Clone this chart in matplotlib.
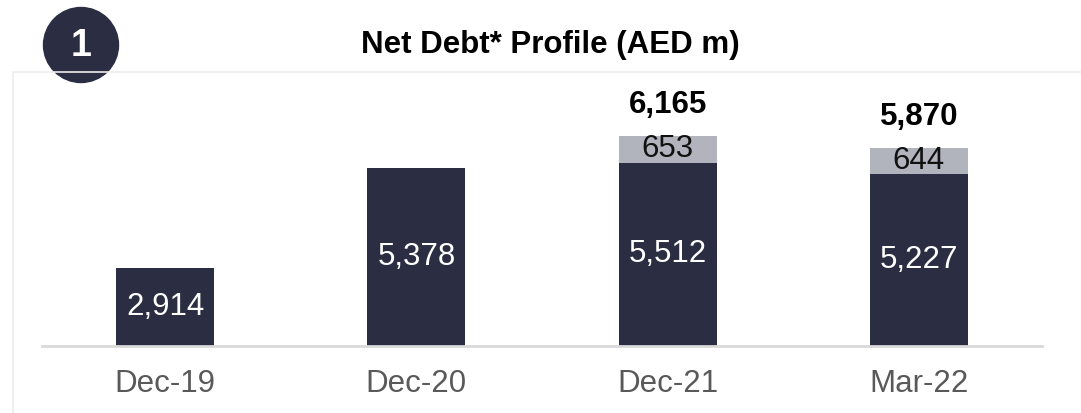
import matplotlib
matplotlib.use("Agg")
import matplotlib.pyplot as plt
from matplotlib.patches import Rectangle, Circle

categories = ["Dec-19", "Dec-20", "Dec-21", "Mar-22"]
base_values = [2914, 5378, 5512, 5227]
top_values = [0, 0, 653, 644]
totals = [None, None, 6165, 5870]

DARK = "#2b2d42"
GREY = "#b1b4bd"

plt.rcParams['font.family'] = ['Liberation Sans', 'DejaVu Sans']

W, H = 1081, 413
fig = plt.figure(figsize=(W / 100, H / 100), dpi=100)

# panel border (top and left visible only)
fig.patches.append(Rectangle((13 / W, -0.1), 1.2, 1.1 - 72 / H, transform=fig.transFigure,
                             fill=False, edgecolor="#eeeeee", linewidth=1.2, zorder=0))

ax = fig.add_axes([42 / W, 1 - 345.7 / H, 1000 / W, (345.7 - 72) / H])
x = list(range(len(categories)))
width = 0.39
ax.bar(x, base_values, width=width, color=DARK, bottom=0, zorder=2)
ax.bar(x, top_values, width=width, color=GREY, bottom=base_values, zorder=2)
ax.set_xlim(-0.49, 3.49)
ax.set_ylim(1012, 1012 + (345.7 - 72) / 0.0407)

for i in x:
    ax.text(i, (1012 + base_values[i]) / 2, f"{base_values[i]:,}", ha="center", va="center",
            color="white", fontsize=22.5, zorder=3)
    if top_values[i]:
        ax.text(i, base_values[i] + top_values[i] / 2, f"{top_values[i]:,}", ha="center",
                va="center", color="#111111", fontsize=22.5, zorder=3)
    if totals[i]:
        ax.annotate(f"{totals[i]:,}", (i, base_values[i] + top_values[i]), xytext=(0, 31),
                    textcoords="offset pixels", ha="center", va="center",
                    fontsize=22.5, fontweight="bold", color="black")

for s in ["top", "right", "left"]:
    ax.spines[s].set_visible(False)
ax.spines["bottom"].set_color("#d9d9d9")
ax.spines["bottom"].set_linewidth(2)
ax.set_yticks([])
ax.set_xticks(x)
ax.set_xticklabels(categories, fontsize=22.5, color="#595959")
ax.tick_params(axis="x", length=0, pad=17)
ax.patch.set_visible(False)

# title
fig.text(550 / W, 1 - 45 / H, "Net Debt* Profile (AED m)", ha="center", va="center",
         fontsize=22.5, fontweight="bold", color="black")

# numbered badge
badge = fig.add_axes([0, 0, 1, 1], facecolor="none")
badge.set_xlim(0, W)
badge.set_ylim(H, 0)
badge.axis("off")
badge.add_patch(Circle((81, 45), 37.5, color=DARK, zorder=5))
badge.text(81, 46, "1", ha="center", va="center", color="white", fontsize=27,
           fontweight="bold", zorder=6)

fig.savefig("out.png", dpi=100)
